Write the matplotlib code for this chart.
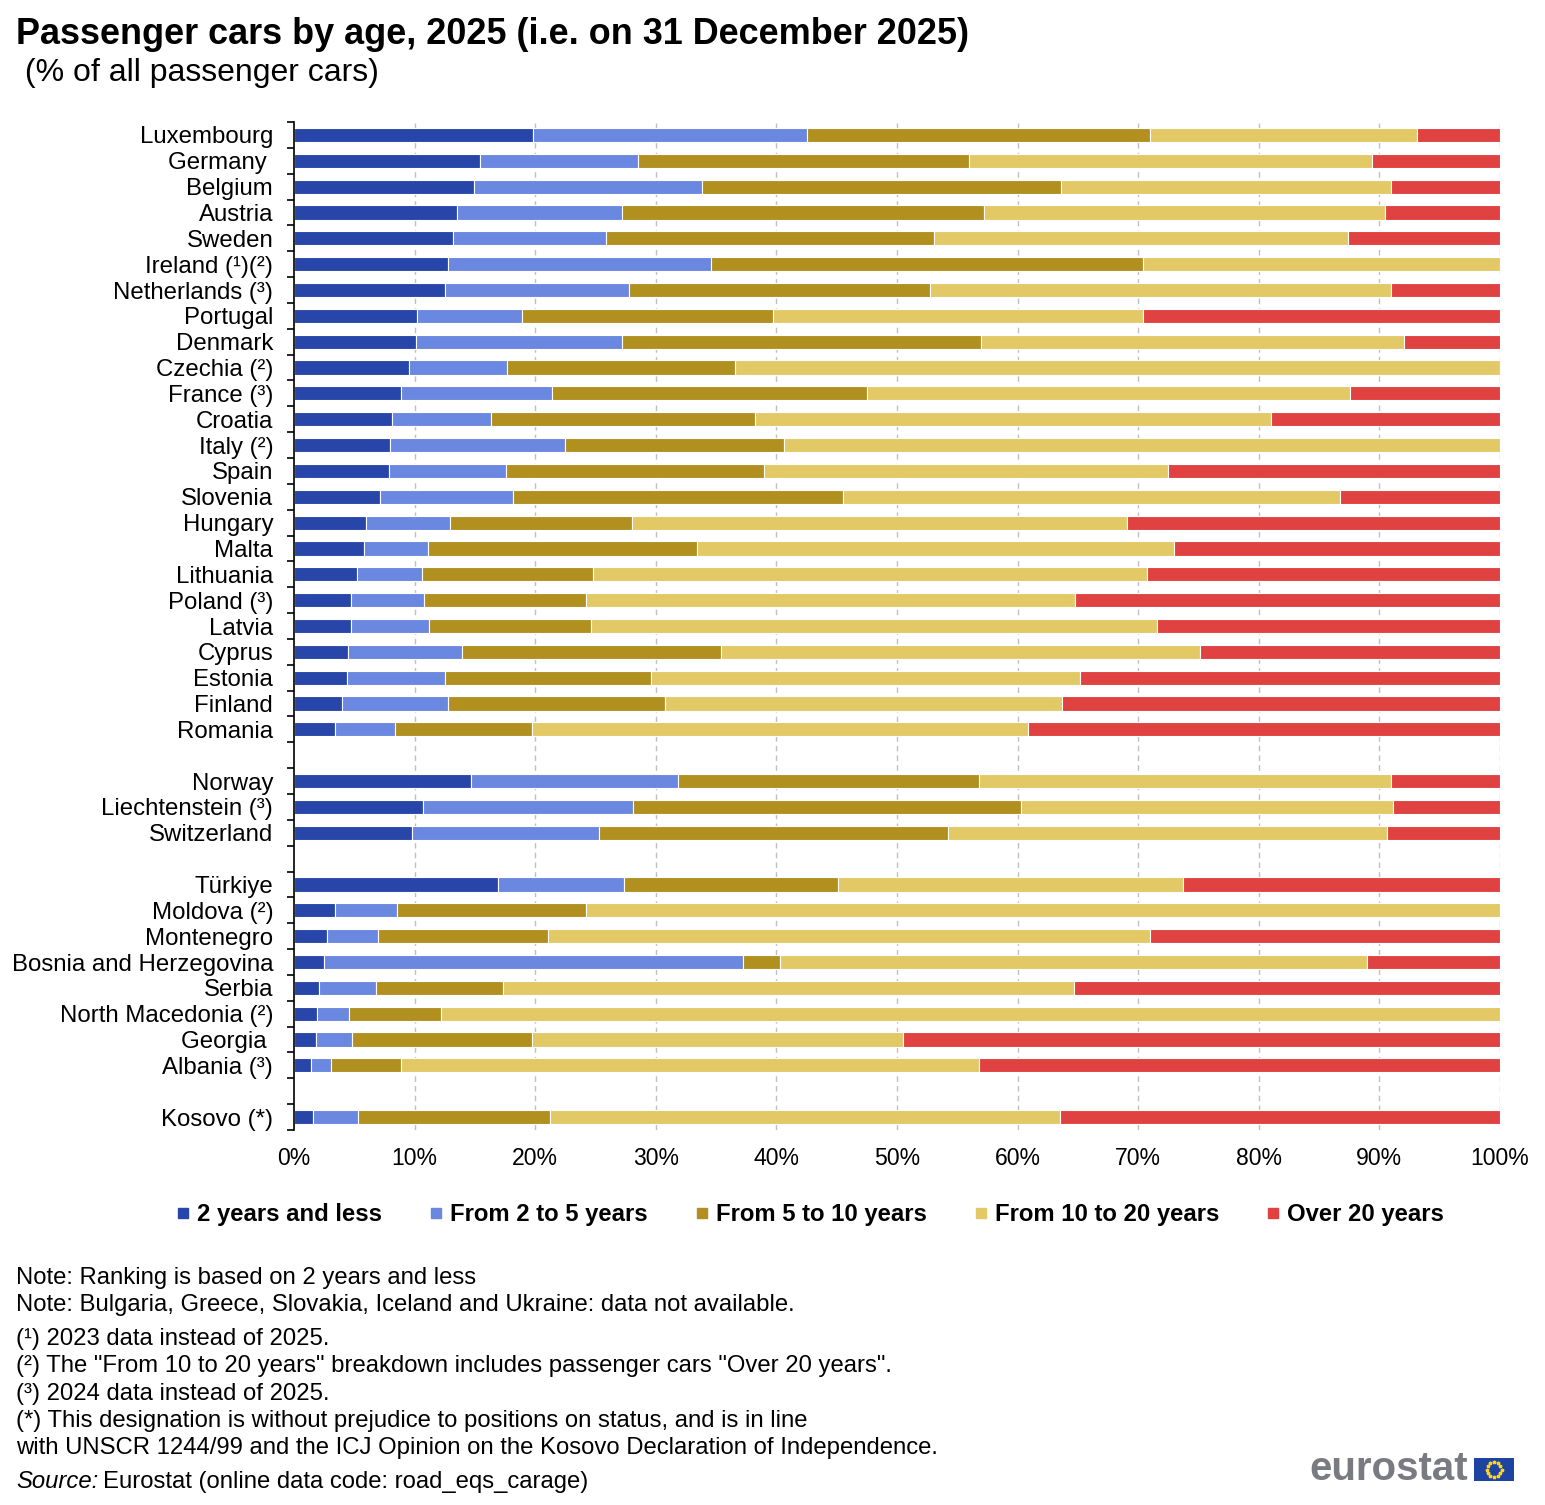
import matplotlib
matplotlib.use("Agg")
import matplotlib.pyplot as plt
from matplotlib.lines import Line2D
from matplotlib.patches import Rectangle
import numpy as np

plt.rcParams['font.family'] = ['Liberation Sans', 'DejaVu Sans']

# ---------------- data ----------------
series_names = ["2 years and less", "From 2 to 5 years", "From 5 to 10 years",
                "From 10 to 20 years", "Over 20 years"]
series_colors = ["#2846a9", "#6b88e0", "#b1901f", "#e2c966", "#e04141"]

group_eu = ["Luxembourg", "Germany ", "Belgium", "Austria", "Sweden", "Ireland (¹)(²)",
            "Netherlands (³)", "Portugal", "Denmark", "Czechia (²)", "France (³)", "Croatia",
            "Italy (²)", "Spain", "Slovenia", "Hungary", "Malta", "Lithuania", "Poland (³)",
            "Latvia", "Cyprus", "Estonia", "Finland", "Romania"]
group_efta = ["Norway", "Liechtenstein (³)", "Switzerland"]
group_cand = ["Türkiye", "Moldova (²)", "Montenegro", "Bosnia and Herzegovina", "Serbia",
              "North Macedonia (²)", "Georgia ", "Albania (³)"]
group_other = ["Kosovo (*)"]

le2 = [19.8, 15.4, 14.9, 13.5, 13.2, 12.8, 12.5, 10.2, 10.1, 9.5, 8.9, 8.1,
       8.0, 7.9, 7.1, 6.0, 5.8, 5.2, 4.7, 4.7, 4.5, 4.4, 4.0, 3.4,
       14.7, 10.7, 9.8,
       16.9, 3.4, 2.7, 2.5, 2.1, 1.9, 1.8, 1.4,
       1.6]
y2to5 = [22.7, 13.1, 18.9, 13.7, 12.7, 21.8, 15.3, 8.7, 17.1, 8.2, 12.5, 8.2,
         14.5, 9.7, 11.1, 6.9, 5.3, 5.4, 6.1, 6.5, 9.4, 8.1, 8.8, 5.0,
         17.1, 17.4, 15.5,
         10.5, 5.1, 4.3, 34.7, 4.7, 2.7, 3.0, 1.7,
         3.7]
y5to10 = [28.5, 27.5, 29.8, 30.0, 27.2, 35.8, 24.9, 20.8, 29.8, 18.9, 26.1, 21.9,
          18.1, 21.4, 27.3, 15.1, 22.3, 14.2, 13.4, 13.4, 21.5, 17.1, 18.0, 11.3,
          25.0, 32.2, 28.9,
          17.7, 15.7, 14.1, 3.1, 10.5, 7.6, 14.9, 5.8,
          15.9]
y10to20 = [22.1, 33.4, 27.4, 33.3, 34.3, 29.6, 38.3, 30.7, 35.0, 63.4, 40.1, 42.8,
           59.4, 33.5, 41.2, 41.1, 39.6, 45.9, 40.6, 47.0, 39.7, 35.6, 32.9, 41.2,
           34.2, 30.8, 36.4,
           28.6, 75.8, 49.9, 48.7, 47.4, 87.8, 30.8, 47.9,
           42.3]
over20 = [6.9, 10.6, 9.0, 9.5, 12.6, 0.0, 9.0, 29.6, 8.0, 0.0, 12.4, 19.0,
          0.0, 27.5, 13.3, 30.9, 27.0, 29.3, 35.2, 28.4, 24.9, 34.8, 36.3, 39.1,
          9.0, 8.9, 9.4,
          26.3, 0.0, 29.0, 11.0, 35.3, 0.0, 49.5, 43.2,
          36.5]

x_ticks = [0, 10, 20, 30, 40, 50, 60, 70, 80, 90, 100]
x_tick_labels = ["0%", "10%", "20%", "30%", "40%", "50%", "60%", "70%", "80%", "90%", "100%"]

notes = ["Note: Ranking is based on 2 years and less",
         "Note: Bulgaria, Greece, Slovakia, Iceland and Ukraine: data not available."]
footnotes = ["(¹) 2023 data instead of 2025.",
             "(²) The \"From 10 to 20 years\" breakdown includes passenger cars \"Over 20 years\".",
             "(³) 2024 data instead of 2025.",
             "(*) This designation is without prejudice to positions on status, and is in line",
             "with UNSCR 1244/99 and the ICJ Opinion on the Kosovo Declaration of Independence."]

# ---------------- layout of rows (groups separated by one empty row) ----------------
groups = [group_eu, group_efta, group_cand, group_other]
labels, positions = [], []
pos = 0
for g in groups:
    for name in g:
        labels.append(name)
        positions.append(pos)
        pos += 1
    pos += 1
n_slots = pos - 1
positions = np.array(positions)

W, H = 1545, 1505
fig = plt.figure(figsize=(W / 100, H / 100), dpi=100)
ax = fig.add_axes([294 / W, 1 - 1130 / H, (1500 - 294) / W, (1130 - 122) / H])

data = np.array([le2, y2to5, y5to10, y10to20, over20])
left = np.zeros(len(labels))
for vals, name, col in zip(data, series_names, series_colors):
    ax.barh(positions, vals, left=left, height=0.55, color=col,
            edgecolor="white", linewidth=0.8, label=name, zorder=3)
    left += vals

ax.set_xlim(0, 100)
ax.set_ylim(n_slots - 0.5, -0.5)
ax.set_xticks(x_ticks)
ax.set_xticklabels(x_tick_labels, fontsize=16.6)
ax.tick_params(axis="x", length=0, pad=12)
ax.set_yticks(positions)
ax.set_yticklabels(labels, fontsize=17.3)
ax.tick_params(axis="y", which="major", length=0, pad=15)
ax.set_yticks(np.arange(-0.5, n_slots, 1.0), minor=True)
ax.tick_params(axis="y", which="minor", length=5, width=1.2, color="black", direction="out")
for s in ["top", "right", "bottom"]:
    ax.spines[s].set_visible(False)
ax.spines["left"].set_linewidth(1.2)
ax.spines["left"].set_zorder(5)
ax.grid(axis="x", color="#c0c0c0", linestyle=(0, (4, 3)), linewidth=1.0, zorder=0)
gl = ax.get_xgridlines()
if gl:
    gl[0].set_visible(False)

# title
fig.text(16 / W, 1 - 35 / H, "Passenger cars by age, 2025 (i.e. on 31 December 2025)",
         fontsize=25.9, fontweight="bold", va="center", ha="left")
fig.text(16 / W, 1 - 73 / H, " (% of all passenger cars)", fontsize=23, va="center", ha="left")

# legend
handles = [Line2D([], [], marker="s", linestyle="none", markersize=7, color=c) for c in series_colors]
leg = fig.legend(handles, series_names, loc="center", bbox_to_anchor=(810 / W, 1 - 1215 / H),
                 ncol=5, frameon=False, handlelength=0.6, handletextpad=0.3,
                 columnspacing=1.95, prop={"size": 17.2, "weight": "bold"})

# notes
fs_note = 17.2
y = 1278
for t in notes:
    fig.text(16 / W, 1 - y / H, t, fontsize=fs_note, va="center", ha="left")
    y += 27
y = 1339
for t in footnotes:
    fig.text(16 / W, 1 - y / H, t, fontsize=fs_note, va="center", ha="left")
    y += 27.3
src = fig.text(16 / W, 1 - 1482 / H, "Source:", fontsize=fs_note, style="italic", va="center", ha="left")
fig.canvas.draw()
bb = src.get_window_extent(fig.canvas.get_renderer())
fig.text(bb.x1 / W + 5 / W, 1 - 1482 / H, "Eurostat (online data code: road_eqs_carage)",
         fontsize=fs_note, va="center", ha="left")

# eurostat logo
fig.text(1468 / W, 1 - 1469 / H, "eurostat", fontsize=29, fontweight="bold", color="#7a7a82",
         va="center", ha="right")
flag = Rectangle((1474 / W, 1 - 1481 / H), 40 / W, 23 / H, transform=fig.transFigure,
                 facecolor="#1d44a0", edgecolor="none")
fig.patches.append(flag)
cx, cy = 1494, 1469.5
ang = np.linspace(0, 2 * np.pi, 13)[:-1]
fig.add_artist(Line2D((cx + 7.5 * np.cos(ang)) / W, 1 - (cy + 7.5 * np.sin(ang)) / H,
                      transform=fig.transFigure, marker="*", markersize=2.5, linestyle="none",
                      color="#ffd21f"))

fig.savefig("out.png", dpi=100)
